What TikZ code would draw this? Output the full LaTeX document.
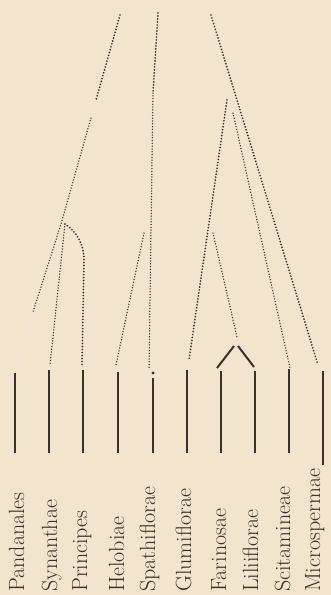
\documentclass[tikz,border=0pt]{standalone}
\usepackage{tikz}
\definecolor{paper}{RGB}{242,228,205}
\definecolor{ink}{RGB}{58,48,44}

\begin{document}
\begin{tikzpicture}[x=1pt,y=-1pt,
  ordo/.style={rotate=90,anchor=base west,inner sep=0pt,text=ink,font=\fontsize{22}{26}\selectfont},
  bar/.style={draw=ink,line width=2.7pt},
  fork/.style={draw=ink,line width=2pt},
  dots/.style={draw=ink,line width=1.9pt,line cap=round,dash pattern=on 0pt off 3pt},
  thin dots/.style={draw=ink,line width=1.5pt,line cap=round,dash pattern=on 0pt off 2.8pt}]
  \fill[paper] (0,0) rectangle (331,595);
  \useasboundingbox (0,0) rectangle (331,595);
  % orders along the bottom
  \foreach \i/\x/\yt/\lx/\name in {1/15/373/24/Pandanales,2/49/370/57/Synanthae,3/83/370/87/Principes,
      4/118/372/124/Helobiae,5/153/378/155/Spathiflorae,6/187/370/191/Glumiflorae,7/221/371/226/Farinosae,
      8/255/371/258/Liliiflorae,9/289/369/290/Scitamineae,10/323/371/320/Microspermae} {
    \node[ordo] (o\i) at (\lx,592) {\name};
    \coordinate (t\i) at (\x,\yt);
    \coordinate (b\i) at (\x,453);
  }
  \coordinate (b10) at (323,465);
  \foreach \i in {1,...,10} { \draw[bar] (t\i) -- (b\i); }
  % left group
  \coordinate (l0) at (120,15);
  \coordinate (l1) at (96,100);
  \coordinate (l2) at (91,118);
  \coordinate (lfork) at (61,224);
  \coordinate (l3) at (33,312);
  \coordinate (l4) at (17,366);
  \coordinate (syn) at (50,365);
  \coordinate (prin) at (82,365);
  \draw[dots] (l0) -- (l1);
  \draw[thin dots] (l2) -- (lfork) -- (l3);
  \draw[thin dots,draw=ink!12] (l3) -- (l4);
  \draw[thin dots] ([xshift=4pt]lfork) -- (syn);
  \draw[dots] ([xshift=4pt]lfork) .. controls (76,231) and (84,244) .. (84,260) -- (prin);
  % middle group
  \coordinate (m0) at (158,13);
  \coordinate (m1) at (153,93);
  \coordinate (spat) at (149,370);
  \coordinate (m2) at (144,233);
  \coordinate (helo) at (116,365);
  \draw[dots] (m0) -- (m1);
  \draw[thin dots] (m1) -- (spat);
  \draw[thin dots] (m2) -- (helo);
  \fill[ink] ([yshift=5pt]t5) circle (1.7pt);
  % right group
  \coordinate (r0) at (211,15);
  \coordinate (micr) at (318,365);
  \coordinate (r1) at (227,100);
  \coordinate (glum) at (189,360);
  \coordinate (r2) at (233,113);
  \coordinate (scit) at (290,368);
  \coordinate (r3) at (213,233);
  \coordinate (fari) at (237,337);
  \draw[dots] (r0) -- (micr);
  \draw[dots] (r1) -- (glum);
  \draw[thin dots] (r2) -- (scit);
  \draw[thin dots] (r3) -- (fari);
  % Farinosae and Liliiflorae
  \coordinate (apexl) at (234,346);
  \coordinate (apexr) at (238,346);
  \coordinate (fl) at (217,368);
  \coordinate (ll) at (254,367);
  \draw[fork] (apexl) -- (fl);
  \draw[fork] (apexr) -- (ll);
\end{tikzpicture}
\end{document}
